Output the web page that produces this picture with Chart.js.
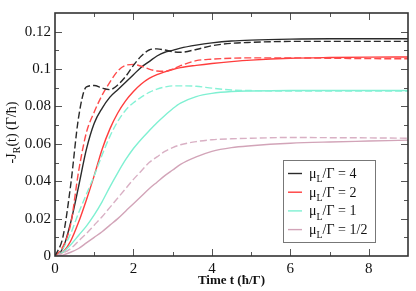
<!DOCTYPE html>
<html><head><meta charset="utf-8">
<script src="https://cdn.jsdelivr.net/npm/chart.js@4.4.1/dist/chart.umd.min.js"></script>
<style>html,body{margin:0;padding:0;background:#fff;}canvas{display:block;}</style>
</head><body>
<canvas id="c" width="416" height="291"></canvas>
<script>
// time values (ħ/Γ)
const tGrid = [0,0.2,0.4,0.6,0.8,1.0,1.2,1.4,1.6,1.8,2.0,2.2,2.4,2.6,2.8,3.0,3.2,3.6,4.0,4.5,5,6,7,8,9];
// μL/Γ = 4
const solid4  = [0,0.004,0.018,0.037,0.057,0.071,0.079,0.085,0.089,0.093,0.097,0.101,0.104,0.107,0.109,0.110,0.1112,0.1128,0.114,0.115,0.1155,0.116,0.1162,0.1162,0.1162];
const dashed4 = [0,0.010,0.038,0.074,0.0905,0.0912,0.0898,0.089,0.0915,0.096,0.102,0.107,0.1102,0.1108,0.1102,0.1093,0.109,0.1105,0.1125,0.1138,0.1143,0.1148,0.1148,0.1148,0.1148];
// μL/Γ = 2
const solid2  = [0,0.002,0.008,0.018,0.030,0.043,0.057,0.068,0.0765,0.083,0.088,0.092,0.095,0.097,0.0985,0.0998,0.1008,0.102,0.103,0.104,0.1048,0.1058,0.1062,0.1064,0.1065];
const dashed2 = [0,0.005,0.017,0.045,0.066,0.077,0.086,0.093,0.099,0.102,0.1025,0.1015,0.100,0.099,0.0988,0.100,0.1018,0.1045,0.1053,0.1058,0.106,0.106,0.1058,0.1056,0.1055];
// μL/Γ = 1
const solid1  = [0,0.002,0.006,0.011,0.016,0.022,0.029,0.037,0.0445,0.0515,0.0575,0.0625,0.067,0.0713,0.0752,0.0788,0.0818,0.0853,0.087,0.088,0.0883,0.0885,0.0885,0.0885,0.0885];
const dashed1 = [0,0.004,0.012,0.023,0.033,0.043,0.054,0.064,0.072,0.078,0.082,0.085,0.0875,0.0893,0.0904,0.091,0.091,0.0908,0.0898,0.0888,0.0885,0.0882,0.0882,0.0882,0.0882];
// μL/Γ = 1/2
const solidHalf  = [0,0.0005,0.002,0.004,0.007,0.010,0.013,0.0165,0.020,0.024,0.028,0.032,0.036,0.0395,0.043,0.046,0.049,0.053,0.056,0.058,0.059,0.0603,0.061,0.0615,0.062];
const dashedHalf = [0,0.0015,0.004,0.008,0.012,0.0165,0.021,0.026,0.031,0.036,0.041,0.0455,0.050,0.053,0.056,0.058,0.0595,0.0612,0.0622,0.0627,0.063,0.0634,0.0633,0.0632,0.063];

const muLabels = ['4','2','1','1/2'];
const xTickValues = [0,2,4,6,8];
const yTickValues = [0,0.02,0.04,0.06,0.08,0.1,0.12];

const solidColors  = ['#2a2a2a','#ff3d3d','#7ff0d2','#d2a4b8'];
const dashedColors = ['#2a2a2a','#ff4a4a','#86f2d6','#d9b0c4'];

const solids = [solid4, solid2, solid1, solidHalf];
const dasheds = [dashed4, dashed2, dashed1, dashedHalf];

const pts = arr => tGrid.map((t,i)=>({x:t,y:arr[i]}));
const datasets = [];
for (let k=0;k<4;k++){
  datasets.push({label:'d'+k,data:pts(dasheds[k]),borderColor:dashedColors[k],borderWidth:1.4,borderDash:[7,3],pointRadius:0,cubicInterpolationMode:'monotone',fill:false});
}
for (let k=3;k>=0;k--){
  datasets.push({label:'s'+k,data:pts(solids[k]),borderColor:solidColors[k],borderWidth:1.4,pointRadius:0,cubicInterpolationMode:'monotone',fill:false});
}

const SERIF = '"Liberation Serif","DejaVu Serif",serif';

function drawRich(ctx, parts, x, y, size){
  let cx = x;
  for (const [txt, sub] of parts){
    ctx.font = (sub? Math.round(size*0.72): size) + 'px ' + SERIF;
    ctx.fillText(txt, cx, y + (sub? size*0.3:0));
    cx += ctx.measureText(txt).width;
  }
  return cx - x;
}
function richWidth(ctx, parts, size){
  let w=0;
  for (const [txt, sub] of parts){
    ctx.font = (sub? Math.round(size*0.72): size) + 'px ' + SERIF;
    w += ctx.measureText(txt).width;
  }
  return w;
}

const framePlugin = {
  id:'framePlugin',
  afterDraw(chart){
    const {ctx, chartArea:a, scales:{x,y}} = chart;
    ctx.save();
    ctx.strokeStyle='#555'; ctx.lineWidth=1;
    for (let i=1;i<=8;i++){
      const px = Math.round(x.getPixelForValue(i))+0.5;
      const len = i%2===0?7:4;
      ctx.beginPath();
      ctx.moveTo(px,a.bottom); ctx.lineTo(px,a.bottom-len);
      ctx.moveTo(px,a.top); ctx.lineTo(px,a.top+len);
      ctx.stroke();
    }
    for (let i=1;i<=12;i++){
      const py = Math.round(y.getPixelForValue(i*0.01))+0.5;
      const len = i%2===0?7:4;
      ctx.beginPath();
      ctx.moveTo(a.left,py); ctx.lineTo(a.left+len,py);
      ctx.moveTo(a.right,py); ctx.lineTo(a.right-len,py);
      ctx.stroke();
    }
    ctx.strokeStyle='#333'; ctx.lineWidth=1.6;
    ctx.strokeRect(a.left, a.top, a.right-a.left, a.bottom-a.top);

    ctx.fillStyle='#111';
    ctx.textBaseline='alphabetic';
    ctx.textAlign='left';
    ctx.font = 'bold 13px '+SERIF;
    const xt = 'Time t (ħ/Γ)';
    const xw = ctx.measureText(xt).width;
    ctx.fillText(xt, (a.left+a.right)/2 - xw/2, 284);

    ctx.save();
    ctx.translate(16, (a.top+a.bottom)/2 - 2);
    ctx.rotate(-Math.PI/2);
    const yparts = [['-J',false],['R',true],['(t) (Γ/ħ)',false]];
    const yw = richWidth(ctx, yparts, 14);
    drawRich(ctx, yparts, -yw/2, 0, 14);
    ctx.restore();

    const lx=283, ly=160, lw=92, lh=82;
    ctx.fillStyle='#fff';
    ctx.fillRect(lx,ly,lw,lh);
    ctx.strokeStyle='#777'; ctx.lineWidth=1;
    ctx.strokeRect(lx+0.5,ly+0.5,lw,lh);
    for (let k=0;k<4;k++){
      const rowY = 173.5 + k*18.7;
      ctx.strokeStyle = solidColors[k]; ctx.lineWidth=1.4;
      ctx.beginPath(); ctx.moveTo(288,rowY); ctx.lineTo(302,rowY); ctx.stroke();
      ctx.fillStyle='#111';
      drawRich(ctx, [['μ',false],['L',true],['/Γ = '+muLabels[k],false]], 309, rowY+4.5, 14);
    }
    ctx.restore();
  }
};

Chart.defaults.font.family = SERIF;
Chart.defaults.color = '#111';

new Chart(document.getElementById('c'), {
  type:'line',
  data:{datasets},
  options:{
    responsive:false,
    animation:false,
    layout:{padding:{left:0,top:8,right:8,bottom:0}},
    plugins:{legend:{display:false},tooltip:{enabled:false}},
    scales:{
      x:{
        type:'linear', min:0, max:9,
        grid:{display:false,drawTicks:false},
        border:{display:false},
        afterBuildTicks(s){ s.ticks = xTickValues.map(v=>({value:v})); },
        afterFit(s){ s.height = 35; },
        ticks:{font:{size:15},padding:4,color:'#111',maxRotation:0,callback:v=>String(v)}
      },
      y:{
        type:'linear', min:0, max:0.13,
        grid:{display:false,drawTicks:false},
        border:{display:false},
        afterBuildTicks(s){ s.ticks = yTickValues.map(v=>({value:v})); },
        afterFit(s){ s.width = 55; },
        ticks:{font:{size:15},padding:4,color:'#111',callback:v=> v===0?'0':String(+v.toFixed(2))}
      }
    }
  },
  plugins:[framePlugin]
});
</script>
</body></html>
